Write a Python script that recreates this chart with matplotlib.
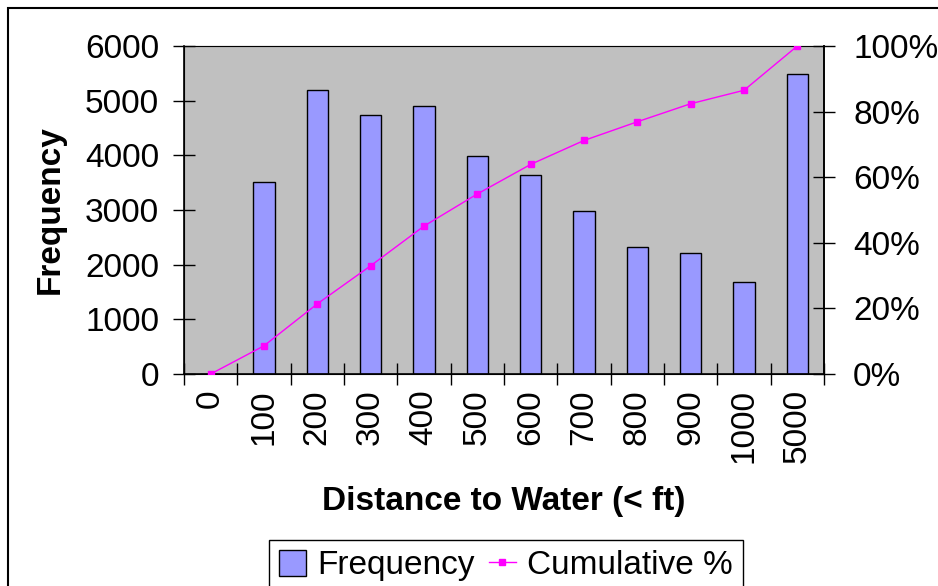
import matplotlib
matplotlib.use("Agg")
import matplotlib.pyplot as plt
from matplotlib.patches import Rectangle, Patch
from matplotlib.lines import Line2D
from matplotlib.ticker import FixedLocator, PercentFormatter

plt.rcParams["font.family"] = ["Liberation Sans", "DejaVu Sans"]

# distance bins (< ft) and counts per bin
bins = ["0", "100", "200", "300", "400", "500", "600", "700", "800", "900", "1000", "5000"]
frequency = [0, 3510, 5200, 4730, 4910, 3990, 3640, 2990, 2330, 2210, 1680, 5490]
cumulative_pct = [0, 8.6, 21.4, 33.0, 45.1, 54.9, 63.9, 71.2, 76.9, 82.4, 86.5, 100]

W, H = 938, 586
FS = 24
fig = plt.figure(figsize=(W / 100, H / 100), dpi=100)
fig.patch.set_facecolor("white")

# outer chart border (runs off the right and bottom edges)
fig.patches.append(Rectangle((8 / W, -0.5), 2, 1 - 8 / H + 0.5, transform=fig.transFigure,
                             fill=False, edgecolor="black", lw=1.5, zorder=0))

ax = fig.add_axes([184 / W, 1 - 374 / H, 640 / W, 328 / H])
ax.set_facecolor("#C0C0C0")
x = list(range(len(bins)))
ax.bar(x, frequency, width=0.4, color="#9999FF", edgecolor="black", linewidth=1.0, zorder=2)

ax.set_xlim(-0.5, len(bins) - 0.5)
ax.set_ylim(0, 6000)
ax.set_yticks(range(0, 6001, 1000))
ax.set_xticks(x)
ax.set_xticklabels(bins, rotation=90, fontsize=FS)
ax.xaxis.set_minor_locator(FixedLocator([i - 0.5 for i in range(len(bins) + 1)]))
ax.tick_params(axis="x", which="major", length=0, pad=11)
ax.tick_params(axis="x", which="minor", direction="inout", length=16, width=1)
ax.tick_params(axis="y", direction="inout", length=16, width=1, labelsize=FS, pad=10)

for side in ["left", "bottom", "right"]:
    ax.spines[side].set_color("black")
    ax.spines[side].set_linewidth(1.2)
ax.spines["top"].set_color("#808080")

ax.set_ylabel("Frequency", fontsize=FS, fontweight="bold", labelpad=14)
ax.set_xlabel("Distance to Water (< ft)", fontsize=FS, fontweight="bold", labelpad=16)

ax2 = ax.twinx()
ax2.plot(x, cumulative_pct, color="#FF00FF", lw=1.0, marker="s", markersize=4, zorder=3)
ax2.set_ylim(0, 100)
ax2.set_yticks(range(0, 101, 20))
ax2.yaxis.set_major_formatter(PercentFormatter(decimals=0))
ax2.tick_params(axis="y", direction="inout", length=16, width=1, labelsize=FS, pad=13)
ax2.spines["right"].set_linewidth(1.2)

handles = [Patch(facecolor="#9999FF", edgecolor="black", linewidth=1.0),
           Line2D([], [], color="#FF00FF", lw=1.0, marker="s", markersize=4)]
leg = fig.legend(handles, ["Frequency", "Cumulative %"], loc="upper center",
                 bbox_to_anchor=(506 / W, 1 - 540 / H), ncol=2, fontsize=FS,
                 frameon=True, fancybox=False, edgecolor="black", framealpha=1,
                 handlelength=0.8, handleheight=0.8, handletextpad=0.35,
                 columnspacing=0.42, borderpad=0.3, borderaxespad=0)
leg.get_frame().set_linewidth(1.0)

fig.savefig("out.png", dpi=100)
